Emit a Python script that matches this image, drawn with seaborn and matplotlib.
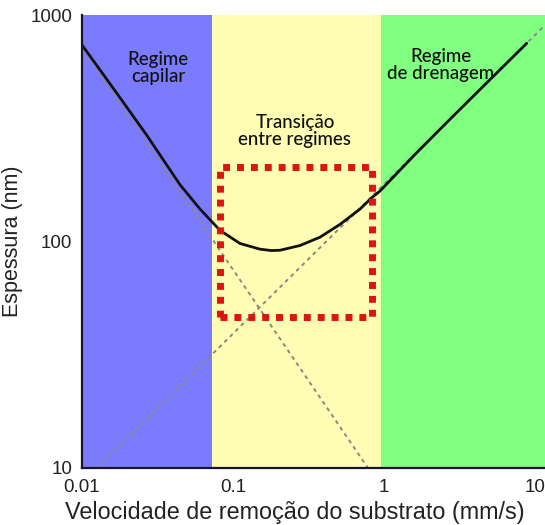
import matplotlib
matplotlib.use("Agg")
import matplotlib.pyplot as plt
from matplotlib.patches import Rectangle
import seaborn as sns
import pandas as pd

# ---- data ----
speed_curve = [0.01, 0.0161, 0.0268, 0.0446, 0.0605, 0.082, 0.1112, 0.151, 0.18, 0.2048,
               0.2778, 0.377, 0.511, 0.693, 0.829, 0.94, 1.2, 1.6, 2.74, 5.04, 8.81]
thickness_curve = [737, 475, 295, 178, 139, 112, 98, 92.5, 91.2, 91.5,
                   96, 104.5, 119, 139, 156, 167, 198, 242, 347, 519, 750]

capillary_speed = [0.01, 0.783]
capillary_thickness = [718, 10]
drainage_speed = [0.0126, 11.64]
drainage_thickness = [10, 902]

regime_bounds = [0.01, 0.0726, 0.955, 11.64]
regime_colors = ["#7B7BFF", "#FFFCB4", "#80FF80"]
regime_labels = ["Regime\ncapilar", "Transição\nentre regimes", "Regime\nde drenagem"]

box_speed = [0.082, 0.829]
box_thickness = [46.6, 214]

x_ticks = [0.01, 0.1, 1, 10]
x_ticklabels = ["0.01", "0.1", "1", "10"]
y_ticks = [10, 100, 1000]
y_ticklabels = ["10", "100", "1000"]

# ---- figure ----
sns.set_style("white")
plt.rcParams["font.family"] = ["Liberation Sans", "DejaVu Sans"]

fig = plt.figure(figsize=(5.45, 5.25), dpi=100)
ax = fig.add_axes([82 / 545, 1 - 468 / 525, 463 / 545, 453 / 525])
ax.set_xscale("log")
ax.set_yscale("log")
ax.set_xlim(regime_bounds[0], regime_bounds[-1])
ax.set_ylim(10, 1000)

for i, c in enumerate(regime_colors):
    ax.axvspan(regime_bounds[i], regime_bounds[i + 1], color=c, zorder=0, lw=0)

df_cap = pd.DataFrame({"v": capillary_speed, "h": capillary_thickness})
df_dr = pd.DataFrame({"v": drainage_speed, "h": drainage_thickness})
for d in (df_cap, df_dr):
    sns.lineplot(data=d, x="v", y="h", ax=ax, color="#888888", lw=1.4,
                 linestyle=(0, (2, 2)), sort=False, estimator=None, zorder=2)

df_curve = pd.DataFrame({"v": speed_curve, "h": thickness_curve})
sns.lineplot(data=df_curve, x="v", y="h", ax=ax, color="#111111", lw=2.0,
             sort=False, estimator=None, zorder=3)

rect = Rectangle((box_speed[0], box_thickness[0]),
                 box_speed[1] - box_speed[0], box_thickness[1] - box_thickness[0],
                 fill=False, edgecolor="#DC1414", lw=5, linestyle=(0, (1, 1)), zorder=4)
ax.add_patch(rect)

text_pos = [(0.165, 0.882), (0.46, 0.745), (0.775, 0.890)]
for (tx, ty), lab in zip(text_pos, regime_labels):
    ax.text(tx, ty, lab, transform=ax.transAxes, ha="center", va="center",
            fontsize=13.5, family=["Lato", "DejaVu Sans"], fontweight="medium",
            color="#111111", linespacing=1.0, zorder=5)

ax.set_xticks(x_ticks)
ax.set_xticklabels(x_ticklabels)
ax.set_yticks(y_ticks)
ax.set_yticklabels(y_ticklabels)
ax.minorticks_off()
ax.tick_params(axis="both", direction="in", length=6.5, width=1.5, color="#111122",
               labelsize=13.5, labelcolor="#222222", pad=7)
ax.tick_params(axis="x", pad=8)

for s in ("top", "right"):
    ax.spines[s].set_visible(False)
for s in ("left", "bottom"):
    ax.spines[s].set_color("#15152e")
    ax.spines[s].set_linewidth(1.6)
    ax.spines[s].set_zorder(6)

ax.set_xlabel("Velocidade de remoção do substrato (mm/s)", fontsize=16.8, color="#222222")
ax.xaxis.set_label_coords((295 - 82) / 463, -0.072)
ax.set_ylabel("Espessura (nm)", fontsize=15.5, color="#222222", labelpad=5)

fig.savefig("out.png", dpi=100)
